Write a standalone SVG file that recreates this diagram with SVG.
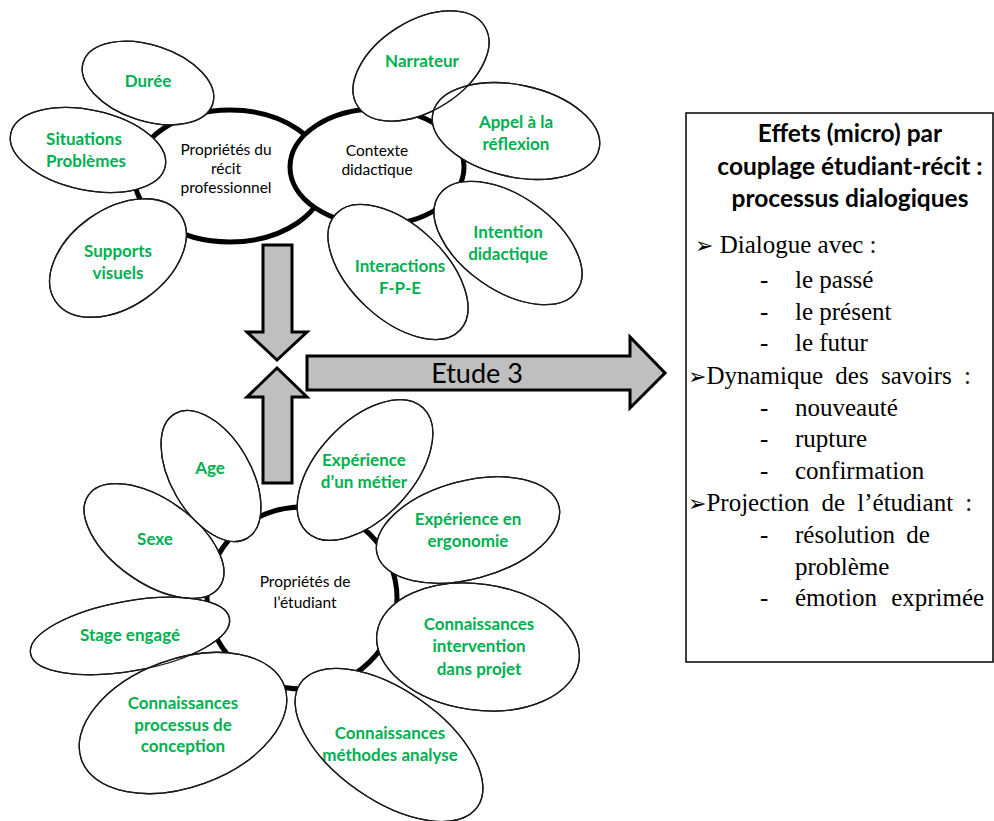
<svg xmlns="http://www.w3.org/2000/svg" xmlns:xlink="http://www.w3.org/1999/xlink" width="994" height="821" viewBox="0 0 994 821">
<style>
  .core { fill: #fff; stroke: #000; stroke-width: 5; }
  .sat { fill: #fff; stroke: #1a1a1a; stroke-width: 1.3; }
  .ol { fill: none; stroke: #1a1a1a; stroke-width: 1.3; }
  .lbl { font-family: Lato, "Open Sans", sans-serif; font-weight: 700; font-size: 17px; fill: #00b050; stroke: none; text-anchor: middle; }
  .clbl { font-family: Lato, "Open Sans", sans-serif; font-weight: 400; font-size: 15.5px; fill: #000; stroke: none; text-anchor: middle; }
  .arrow { fill: #bfbfbf; stroke: #000; stroke-width: 3; stroke-linejoin: miter; }
  .etude { font-family: Lato, "Open Sans", sans-serif; font-size: 27px; fill: #000; text-anchor: middle; }
  .box { fill: #fff; stroke: #000; stroke-width: 1.5; }
  .title { font-family: Lato, "Open Sans", sans-serif; font-weight: 700; font-size: 24.5px; fill: #000; text-anchor: middle; }
  .item { font-family: "Liberation Serif", "Times New Roman", serif; font-size: 25px; fill: #000; }
  .bul { font-family: "DejaVu Sans", sans-serif; font-size: 22px; }
</style>

<!-- central nodes -->
<g id="n-recit">
  <ellipse class="core" cx="230" cy="176" rx="96" ry="66"/>
  <text class="clbl" x="226" y="155">Propriétés du</text>
  <text class="clbl" x="226" y="174">récit</text>
  <text class="clbl" x="226" y="193">professionnel</text>
</g>
<g id="n-contexte">
  <ellipse class="core" cx="377" cy="167" rx="87" ry="58"/>
  <text class="clbl" x="377" y="156">Contexte</text>
  <text class="clbl" x="377" y="175">didactique</text>
</g>
<g id="n-etudiant">
  <ellipse class="core" cx="302" cy="598" rx="95" ry="91"/>
  <text class="clbl" x="305" y="587">Propriétés de</text>
  <text class="clbl" x="305" y="608">l’étudiant</text>
</g>

<!-- satellites: top-left -->
<g id="n-duree" class="sat">
  <ellipse id="e-duree" transform="translate(148,83) rotate(18)" rx="68" ry="38"/>
  <text class="lbl" x="148" y="87">Durée</text>
</g>
<g id="n-situations" class="sat">
  <ellipse id="e-situations" transform="translate(88,150) rotate(12)" rx="79" ry="40"/>
  <text class="lbl" x="84" y="145">Situations</text>
  <text class="lbl" x="86" y="167">Problèmes</text>
</g>
<g id="n-supports" class="sat">
  <ellipse id="e-supports" transform="translate(118,258) rotate(-35)" rx="76" ry="49"/>
  <text class="lbl" x="118" y="257">Supports</text>
  <text class="lbl" x="118" y="279">visuels</text>
</g>

<!-- satellites: top-right -->
<g id="n-narrateur" class="sat">
  <ellipse id="e-narrateur" transform="translate(421,66) rotate(-32)" rx="75" ry="45"/>
  <text class="lbl" x="422" y="67">Narrateur</text>
</g>
<g id="n-appel" class="sat">
  <ellipse id="e-appel" transform="translate(516,131) rotate(12)" rx="85" ry="46"/>
  <text class="lbl" x="516" y="128">Appel à la</text>
  <text class="lbl" x="516" y="150">réflexion</text>
</g>
<g id="n-intention" class="sat">
  <ellipse id="e-intention" transform="translate(508,243) rotate(35)" rx="84" ry="47"/>
  <text class="lbl" x="508" y="238">Intention</text>
  <text class="lbl" x="508" y="260">didactique</text>
</g>
<g id="n-interactions" class="sat">
  <ellipse id="e-interactions" transform="translate(398,272) rotate(43)" rx="85" ry="47"/>
  <text class="lbl" x="400" y="272">Interactions</text>
  <text class="lbl" x="400" y="294">F-P-E</text>
</g>

<!-- satellites: bottom -->
<g id="n-age" class="sat">
  <ellipse id="e-age" transform="translate(211,476) rotate(60)" rx="72" ry="40"/>
  <text class="lbl" x="210" y="474">Age</text>
</g>
<g id="n-sexe" class="sat">
  <ellipse id="e-sexe" transform="translate(154,541) rotate(35)" rx="80" ry="42"/>
  <text class="lbl" x="155" y="545">Sexe</text>
</g>
<g id="n-stage" class="sat">
  <ellipse id="e-stage" transform="translate(130,636) rotate(-10)" rx="101" ry="35"/>
  <text class="lbl" x="130" y="641">Stage engagé</text>
</g>
<g id="n-processus" class="sat">
  <ellipse id="e-processus" transform="translate(183,723) rotate(-20)" rx="108" ry="64"/>
  <text class="lbl" x="183" y="709">Connaissances</text>
  <text class="lbl" x="183" y="731">processus de</text>
  <text class="lbl" x="183" y="752">conception</text>
</g>
<g id="n-methodes" class="sat">
  <ellipse id="e-methodes" transform="translate(389,745) rotate(35)" rx="108" ry="55"/>
  <text class="lbl" x="390" y="739">Connaissances</text>
  <text class="lbl" x="390" y="761">méthodes analyse</text>
</g>
<g id="n-intervention" class="sat">
  <ellipse id="e-intervention" transform="translate(478,647) rotate(8)" rx="102" ry="63"/>
  <text class="lbl" x="479" y="630">Connaissances</text>
  <text class="lbl" x="479" y="652">intervention</text>
  <text class="lbl" x="479" y="675">dans projet</text>
</g>
<g id="n-ergonomie" class="sat">
  <ellipse id="e-ergonomie" transform="translate(468,530) rotate(-15)" rx="94" ry="49"/>
  <text class="lbl" x="468" y="525">Expérience en</text>
  <text class="lbl" x="468" y="547">ergonomie</text>
</g>
<g id="n-metier" class="sat">
  <ellipse id="e-metier" transform="translate(365,470) rotate(-47)" rx="85" ry="48"/>
  <text class="lbl" x="364" y="466">Expérience</text>
  <text class="lbl" x="364" y="488">d’un métier</text>
</g>

<!-- satellite outlines drawn over overlapping fills -->
<g id="outlines" class="ol">
  <use xlink:href="#e-duree"/>
  <use xlink:href="#e-situations"/>
  <use xlink:href="#e-supports"/>
  <use xlink:href="#e-narrateur"/>
  <use xlink:href="#e-appel"/>
  <use xlink:href="#e-intention"/>
  <use xlink:href="#e-interactions"/>
  <use xlink:href="#e-age"/>
  <use xlink:href="#e-sexe"/>
  <use xlink:href="#e-stage"/>
  <use xlink:href="#e-processus"/>
  <use xlink:href="#e-methodes"/>
  <use xlink:href="#e-intervention"/>
  <use xlink:href="#e-ergonomie"/>
  <use xlink:href="#e-metier"/>
</g>

<!-- connectors (block arrows) -->
<g id="connectors">
  <polygon class="arrow" points="263,245 292,245 292,332 307,332 277,360 247,332 263,332"/>
  <polygon class="arrow" points="277,368 307,397 292,397 292,483 263,483 263,397 247,397"/>
  <polygon class="arrow" points="307,356 630,356 630,337 665,373 630,408 630,390 307,390"/>
  <text class="etude" x="477" y="383">Etude 3</text>
</g>

<!-- effects box -->
<g id="n-effets">
  <rect class="box" x="686" y="113" width="307" height="549"/>
  <text class="title" x="850" y="142">Effets (micro) par</text>
  <text class="title" x="850" y="175">couplage étudiant-récit :</text>
  <text class="title" x="850" y="207">processus dialogiques</text>

  <text class="item" x="695" y="253"><tspan class="bul">➢</tspan> Dialogue avec :</text>
  <text class="item" x="760" y="288">-</text><text class="item" x="795" y="288">le passé</text>
  <text class="item" x="760" y="320">-</text><text class="item" x="795" y="320">le présent</text>
  <text class="item" x="760" y="351">-</text><text class="item" x="795" y="351">le futur</text>

  <text class="item" x="688" y="384" word-spacing="6"><tspan class="bul">➢</tspan>Dynamique des savoirs :</text>
  <text class="item" x="760" y="416">-</text><text class="item" x="795" y="416">nouveauté</text>
  <text class="item" x="760" y="447">-</text><text class="item" x="795" y="447">rupture</text>
  <text class="item" x="760" y="479">-</text><text class="item" x="795" y="479">confirmation</text>

  <text class="item" x="688" y="511" word-spacing="6"><tspan class="bul">➢</tspan>Projection de l’étudiant :</text>
  <text class="item" x="760" y="543">-</text><text class="item" x="795" y="543" word-spacing="5">résolution de</text>
  <text class="item" x="795" y="575">problème</text>
  <text class="item" x="760" y="606">-</text><text class="item" x="795" y="606" word-spacing="8">émotion exprimée</text>
</g>
</svg>
